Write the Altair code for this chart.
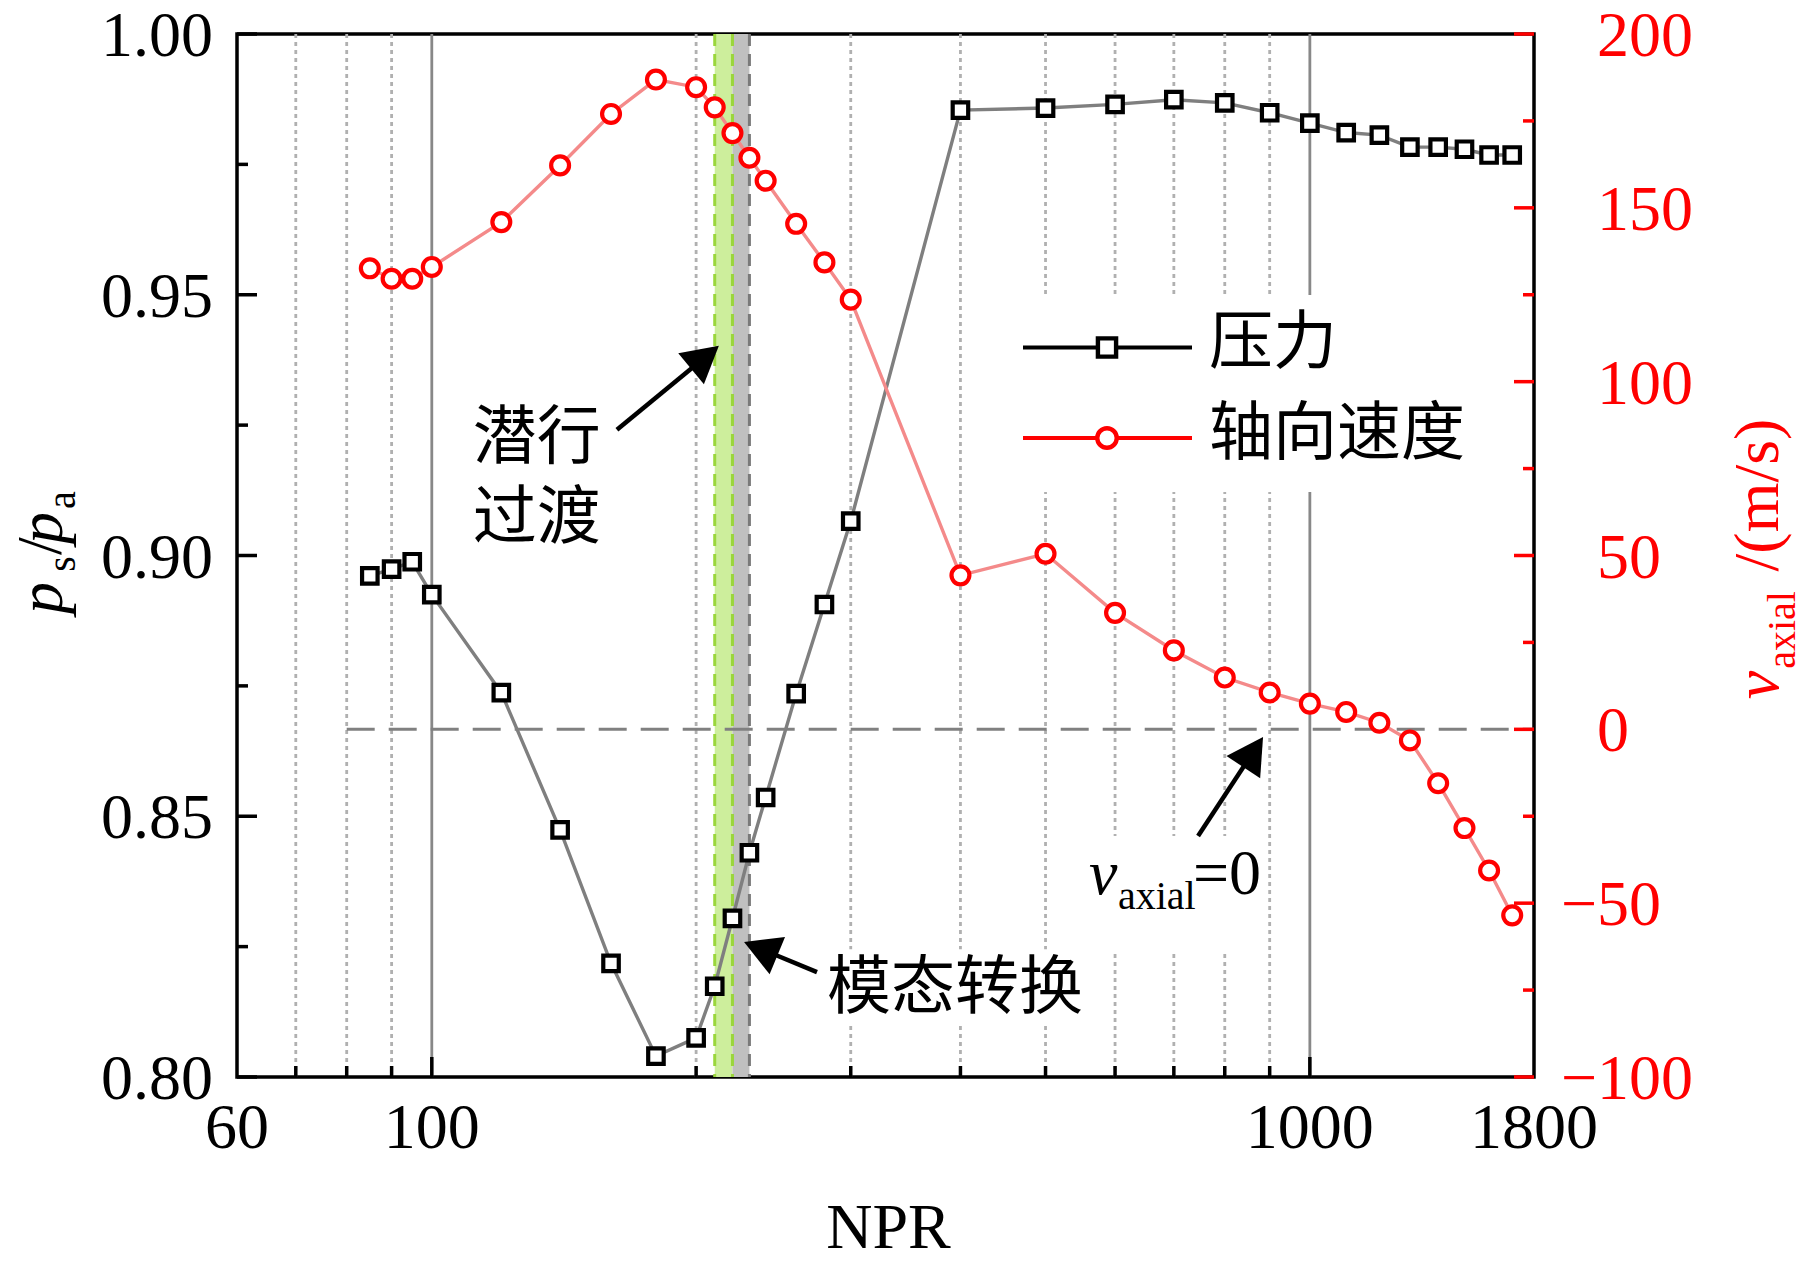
import math
import altair as alt
import pandas as pd

# ---------------- data ----------------
NPR = [85, 90, 95, 100, 120, 140, 160, 180, 200, 210, 220, 230, 240, 260, 280, 300,
       400, 500, 600, 700, 800, 900, 1000, 1100, 1200, 1300, 1400, 1500, 1600, 1700]
PRESSURE = [0.8961, 0.8974, 0.8988, 0.8925, 0.8737, 0.8474, 0.8218, 0.8040, 0.8075, 0.8174,
            0.8304, 0.8430, 0.8536, 0.8735, 0.8906, 0.9066, 0.9854, 0.9858, 0.9865, 0.9874,
            0.9868, 0.9849, 0.9829, 0.9811, 0.9806, 0.9783, 0.9783, 0.9779, 0.9768, 0.9768]
VELOCITY = [132.6, 129.6, 129.6, 133.0, 145.9, 162.2, 177.0, 186.9, 184.7, 178.9,
            171.5, 164.4, 157.8, 145.4, 134.3, 123.6, 44.3, 50.5, 33.5, 22.7,
            14.9, 10.6, 7.4, 5.0, 1.9, -3.2, -15.5, -28.4, -40.6, -53.5]

X_LABELS = [60, 100, 1000, 1800]
X_MAJOR = [100, 1000]
X_MINOR = [70, 80, 90, 200, 300, 400, 500, 600, 700, 800, 900]
LEFT_MAJOR = [0.80, 0.85, 0.90, 0.95, 1.00]
LEFT_MINOR = [0.825, 0.875, 0.925, 0.975]
RIGHT_MAJOR = [-100, -50, 0, 50, 100, 150, 200]
RIGHT_MINOR = [-75, -25, 25, 75, 125, 175]

GREEN_BAND = [210, 220]
GRAY_BAND = [220, 230]
ZERO_LINE = [80, 1800]       # NPR range of the v_axial = 0 reference line

X_TITLE = "NPR"
SERIES_NAMES = ["压力", "轴向速度"]
ANNOT_TEXT = ["潜行\n过渡", "模态转换"]
ANNOT_NPR = [131.7, 394.3]
ANNOT_P = [0.9187, 0.8133]

# arrows: tail -> tip (NPR, ps/pa)
ARROW_TAIL_NPR = [162.5, 745.9, 274.6]
ARROW_TAIL_P = [0.9241, 0.8462, 0.8201]
ARROW_TIP_NPR = [212.3, 884.5, 226.8]
ARROW_TIP_P = [0.9402, 0.8652, 0.8259]

# white boxes behind annotation text (NPR range, ps/pa range)
BOX_N0 = [276.8, 554.6]
BOX_N1 = [561.8, 890.0]
BOX_P0 = [0.8098, 0.8242]
BOX_P1 = [0.8245, 0.8462]

# ---------------- layout / style ----------------
W, H = 1297, 1043
SERIF = "Liberation Serif"
CJK = "Noto Sans CJK SC"
FS = 64
SUB = 40
RED = "#ff0000"

X_DOM = [60, 1800]
YL_DOM = [0.8, 1.0]
YR_DOM = [-100, 200]

xs = alt.Scale(type="log", domain=X_DOM, nice=False)
yl = alt.Scale(domain=YL_DOM, nice=False, zero=False)
yr = alt.Scale(domain=YR_DOM, nice=False, zero=False)


def to_px(n, p):
    return (W * math.log(n / X_DOM[0]) / math.log(X_DOM[1] / X_DOM[0]),
            H * (YL_DOM[1] - p) / (YL_DOM[1] - YL_DOM[0]))


def from_px(x, y):
    return (X_DOM[0] * (X_DOM[1] / X_DOM[0]) ** (x / W),
            YL_DOM[1] - y / H * (YL_DOM[1] - YL_DOM[0]))


def X(field, axis=None):
    if axis is None:
        return alt.X(field, type="quantitative", scale=xs, axis=None)
    return alt.X(field, type="quantitative", scale=xs, axis=axis, title=None)


def YL(field, axis=None):
    if axis is None:
        return alt.Y(field, type="quantitative", scale=yl, axis=None)
    return alt.Y(field, type="quantitative", scale=yl, axis=axis, title=None)


def YR(field, axis=None):
    if axis is None:
        return alt.Y(field, type="quantitative", scale=yr, axis=None)
    return alt.Y(field, type="quantitative", scale=yr, axis=axis, title=None)


def ptxt(text, x, y, size=FS, font=SERIF, style="normal", color="black",
         align="center", baseline="alphabetic", angle=None):
    kw = dict(font=font, fontSize=size, fontStyle=style, color=color,
              align=align, baseline=baseline)
    if angle is not None:
        kw["angle"] = angle
    return alt.Chart(pd.DataFrame({"t": [text]})).mark_text(**kw).encode(
        text="t:N", x=alt.value(x), y=alt.value(y))


def dtxt(text, n, p, size=FS, font=SERIF, style="normal", align="left",
         baseline="alphabetic"):
    return alt.Chart(pd.DataFrame({"t": [text], "n": [n], "p": [p]})).mark_text(
        font=font, fontSize=size, fontStyle=style, color="black", align=align,
        baseline=baseline).encode(text="t:N", x=X("n"), y=YL("p"))


def axis(orient, color):
    return alt.Axis(orient=orient, grid=False, ticks=False, labels=False,
                    domainColor=color, domainWidth=3.5, zindex=1)


df = pd.DataFrame({"npr": NPR, "p": PRESSURE, "v": VELOCITY})

# ---------------- left (pressure) group ----------------
bands = alt.Chart(pd.DataFrame({"a": [GREEN_BAND[0]], "b": [GREEN_BAND[1]]})).mark_rect(
    color="#cdee9c").encode(x=X("a", axis("bottom", "black")), x2="b:Q",
                            y=alt.value(0), y2=alt.value(H))
gray_band = alt.Chart(pd.DataFrame({"a": [GRAY_BAND[0]], "b": [GRAY_BAND[1]]})).mark_rect(
    color="#c0c0c0").encode(x=X("a"), x2="b:Q", y=alt.value(0), y2=alt.value(H))
green_edges = alt.Chart(pd.DataFrame({"a": GREEN_BAND})).mark_rule(
    color="#9ad63c", strokeWidth=3, strokeDash=[12, 8]).encode(
    x=X("a"), y=alt.value(0), y2=alt.value(H))
gray_edge = alt.Chart(pd.DataFrame({"a": [GRAY_BAND[1]]})).mark_rule(
    color="#7a7a7a", strokeWidth=3, strokeDash=[12, 8]).encode(
    x=X("a"), y=alt.value(0), y2=alt.value(H))

grid_minor = alt.Chart(pd.DataFrame({"a": X_MINOR})).mark_rule(
    color="#b0b0b0", strokeWidth=2.8, strokeDash=[4, 4]).encode(
    x=X("a"), y=alt.value(0), y2=alt.value(H))
grid_major = alt.Chart(pd.DataFrame({"a": X_MAJOR})).mark_rule(
    color="#888888", strokeWidth=2.8).encode(x=X("a"), y=alt.value(0), y2=alt.value(H))

boxes = alt.Chart(pd.DataFrame({"n0": BOX_N0, "n1": BOX_N1, "p0": BOX_P0, "p1": BOX_P1})).mark_rect(
    color="white").encode(x=X("n0"), x2="n1:Q", y=YL("p0"), y2="p1:Q")
legend_box = alt.Chart(pd.DataFrame({"t": [0]})).mark_rect(color="white").encode(
    x=alt.value(763), x2=alt.value(1243), y=alt.value(261), y2=alt.value(458))

p_line = alt.Chart(df).mark_line(color="#7f7f7f", strokeWidth=3.4).encode(
    x=X("npr"), y=YL("p", axis("left", "black")))
p_pts = alt.Chart(df).mark_point(shape="square", filled=True, fill="white", stroke="black",
                                 strokeWidth=4.2, size=240, opacity=1).encode(
    x=X("npr"), y=YL("p"))

# arrows
rows = []
for tn, tp, hn, hp in zip(ARROW_TAIL_NPR, ARROW_TAIL_P, ARROW_TIP_NPR, ARROW_TIP_P):
    x0, y0 = to_px(tn, tp)
    x1, y1 = to_px(hn, hp)
    dx, dy = x1 - x0, y1 - y0
    L = math.hypot(dx, dy)
    ex, ey = x1 - dx / L * 25, y1 - dy / L * 25
    en, ep = from_px(ex, ey)
    ang = math.degrees(math.atan2(dx, -dy)) % 360
    rows.append({"tn": tn, "tp": tp, "en": en, "ep": ep, "hn": hn, "hp": hp, "ang": ang})
arr_df = pd.DataFrame(rows)
shafts = alt.Chart(arr_df).mark_rule(color="black", strokeWidth=4.5).encode(
    x=X("tn"), x2="en:Q", y=YL("tp"), y2="ep:Q")
heads = alt.Chart(arr_df).mark_point(shape="M0,0L-0.56,1L0.56,1Z", filled=True,
                                     color="black", size=5184, opacity=1,
                                     strokeWidth=0).encode(
    x=X("hn"), y=YL("hp"), angle=alt.Angle("ang:Q", scale=None))

annot = alt.Chart(pd.DataFrame({"t": ANNOT_TEXT, "n": ANNOT_NPR, "p": ANNOT_P})).mark_text(
    font=CJK, fontSize=FS, color="black", align="center", baseline="alphabetic",
    lineBreak="\n", lineHeight=80).encode(
    text="t:N", x=X("n"), y=YL("p"))

v0_v = dtxt("v", 560.3, 0.8351, style="italic")
v0_sub = dtxt("axial", 604.6, 0.8322, size=SUB)
v0_eq = dtxt("=0", 736.0, 0.8351)

# inward ticks
lt_major = alt.Chart(pd.DataFrame({"a": LEFT_MAJOR})).mark_rule(color="black", strokeWidth=3.5).encode(
    y=YL("a"), x=alt.value(0), x2=alt.value(20))
lt_minor = alt.Chart(pd.DataFrame({"a": LEFT_MINOR})).mark_rule(color="black", strokeWidth=3.5).encode(
    y=YL("a"), x=alt.value(0), x2=alt.value(11))
bt_major = alt.Chart(pd.DataFrame({"a": X_MAJOR})).mark_rule(color="black", strokeWidth=3.5).encode(
    x=X("a"), y=alt.value(H), y2=alt.value(H - 20))
bt_minor = alt.Chart(pd.DataFrame({"a": X_MINOR})).mark_rule(color="black", strokeWidth=3.5).encode(
    x=X("a"), y=alt.value(H), y2=alt.value(H - 11))

# tick labels
lt_labels = alt.Chart(pd.DataFrame({"a": LEFT_MAJOR, "t": [f"{v:.2f}" for v in LEFT_MAJOR]})).mark_text(
    font=SERIF, fontSize=FS, color="black", align="right", baseline="alphabetic", dy=22).encode(
    text="t:N", y=YL("a"), x=alt.value(-24))
bt_labels = alt.Chart(pd.DataFrame({"a": X_LABELS, "t": [str(v) for v in X_LABELS]})).mark_text(
    font=SERIF, fontSize=FS, color="black", align="center", baseline="alphabetic").encode(
    text="t:N", x=X("a"), y=alt.value(H + 71))
x_title = ptxt(X_TITLE, W / 2 + 3, H + 171)

# legend
leg_l1 = alt.Chart(pd.DataFrame({"t": [0]})).mark_rule(color="black", strokeWidth=4).encode(
    x=alt.value(786), x2=alt.value(955), y=alt.value(313.5))
leg_l2 = alt.Chart(pd.DataFrame({"t": [0]})).mark_rule(color=RED, strokeWidth=4).encode(
    x=alt.value(786), x2=alt.value(955), y=alt.value(404))
leg_s = alt.Chart(pd.DataFrame({"t": [0]})).mark_point(
    shape="square", filled=True, fill="white", stroke="black", strokeWidth=4.4, size=330,
    opacity=1).encode(x=alt.value(870), y=alt.value(313.5))
leg_c = alt.Chart(pd.DataFrame({"t": [0]})).mark_point(
    shape="circle", filled=True, fill="white", stroke=RED, strokeWidth=4.4, size=380,
    opacity=1).encode(x=alt.value(870), y=alt.value(404))
leg_t1 = ptxt(SERIES_NAMES[0], 972, 310, font=CJK, align="left", baseline="middle")
leg_t2 = ptxt(SERIES_NAMES[1], 972, 401, font=CJK, align="left", baseline="middle")

# left axis title  p_s / p_a (rotated)
lt1 = ptxt("p", -175, 564, style="italic", angle=270)
lt2 = ptxt("s", -162, 530, size=SUB, angle=270)
lt3 = ptxt("/", -176, 512, angle=270)
lt4 = ptxt("p", -175, 494, style="italic", angle=270)
lt5 = ptxt("a", -162, 466, size=SUB, angle=270)

left = alt.layer(bands, gray_band, green_edges, gray_edge, grid_minor, grid_major,
                 boxes, legend_box, p_line, p_pts, shafts, heads, annot,
                 v0_v, v0_sub, v0_eq, lt_major, lt_minor, bt_major, bt_minor,
                 lt_labels, bt_labels, x_title,
                 leg_l1, leg_l2, leg_s, leg_c, leg_t1, leg_t2,
                 lt1, lt2, lt3, lt4, lt5)

# ---------------- right (velocity) group ----------------
zero_line = alt.Chart(pd.DataFrame({"a": [ZERO_LINE[0]], "b": [ZERO_LINE[1]], "v": [0]})).mark_rule(
    color="#808080", strokeWidth=3, strokeDash=[28, 14]).encode(
    x=X("a"), x2="b:Q", y=YR("v", axis("right", RED)))
v_line = alt.Chart(df).mark_line(color="#f48a8a", strokeWidth=3.4).encode(
    x=X("npr"), y=YR("v"))
v_pts = alt.Chart(df).mark_point(shape="circle", filled=True, fill="white", stroke=RED,
                                 strokeWidth=4.2, size=320, opacity=1).encode(
    x=X("npr"), y=YR("v"))
rt_major = alt.Chart(pd.DataFrame({"a": RIGHT_MAJOR})).mark_rule(color=RED, strokeWidth=3.5).encode(
    y=YR("a"), x=alt.value(W - 20), x2=alt.value(W))
rt_minor = alt.Chart(pd.DataFrame({"a": RIGHT_MINOR})).mark_rule(color=RED, strokeWidth=3.5).encode(
    y=YR("a"), x=alt.value(W - 11), x2=alt.value(W))

pos = [v for v in RIGHT_MAJOR if v >= 0]
neg = [v for v in RIGHT_MAJOR if v < 0]
rt_pos = alt.Chart(pd.DataFrame({"a": pos, "t": [str(v) for v in pos]})).mark_text(
    font=SERIF, fontSize=FS, color=RED, align="left", baseline="alphabetic", dy=22).encode(
    text="t:N", y=YR("a"), x=alt.value(W + 63))
rt_neg = alt.Chart(pd.DataFrame({"a": neg, "t": ["\u2212" + str(-v) for v in neg]})).mark_text(
    font=SERIF, fontSize=FS, color=RED, align="left", baseline="alphabetic", dy=22).encode(
    text="t:N", y=YR("a"), x=alt.value(W + 27))

rt1 = ptxt("v", W + 244, 651, style="italic", color=RED, angle=270)
rt2 = ptxt("axial", W + 261, 596, size=SUB, color=RED, angle=270)
rt3 = ptxt("/(m/s)", W + 244, 461, color=RED, angle=270)

right = alt.layer(zero_line, v_line, v_pts, rt_major, rt_minor, rt_pos, rt_neg,
                  rt1, rt2, rt3)

chart = alt.layer(left, right).resolve_scale(y="independent").properties(
    width=W, height=H,
    padding={"left": 229, "top": 26, "right": 270, "bottom": 180},
    autosize=alt.AutoSizeParams(type="none"),
).configure_view(stroke="black", strokeWidth=3.5)

chart.save("out.html", embed_options={"renderer": "svg", "actions": False})
